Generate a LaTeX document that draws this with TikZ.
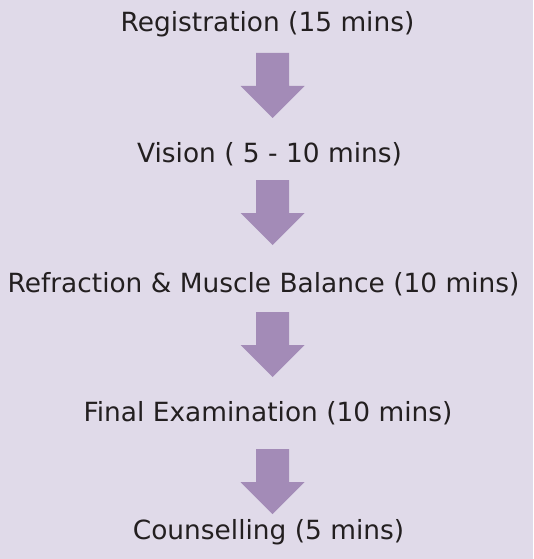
\documentclass[tikz,border=0pt]{standalone}
\usepackage{fontspec}
\setmainfont{DejaVu Sans}
\definecolor{bgcol}{HTML}{E0DAE9}
\definecolor{arrcol}{HTML}{A38BB7}
\definecolor{txtcol}{HTML}{231F20}
\tikzset{
  steptext/.style={anchor=base, inner sep=0pt, text=txtcol, font=\fontsize{26.4}{31}\selectfont},
  blockarr/.pic={\fill[arrcol] (-16.5,0) -- (16.5,0) -- (16.5,33) -- (32,33) -- (0,65) -- (-32,33) -- (-16.5,33) -- cycle;}
}
\begin{document}
\begin{tikzpicture}[x=1pt,y=-1pt]
\fill[bgcol] (0,0) rectangle (533,559);
\useasboundingbox (0,0) rectangle (533,559);
\node[steptext] (s1) at (267.5,32) {Registration (15 mins)};
\node[steptext] (s2) at (269.5,162) {Vision ( 5 - 10 mins)};
\node[steptext] (s3) at (263.5,292) {Refraction \& Muscle Balance (10 mins)};
\node[steptext] (s4) at (268,421) {Final Examination (10 mins)};
\node[steptext] (s5) at (268.5,539) {Counselling (5 mins)};
\coordinate (a1) at (272.5,53);
\coordinate (a2) at (272.5,180);
\coordinate (a3) at (272.5,312);
\coordinate (a4) at (272.5,449);
\pic at (a1) {blockarr};
\pic at (a2) {blockarr};
\pic at (a3) {blockarr};
\pic at (a4) {blockarr};
\end{tikzpicture}
\end{document}
